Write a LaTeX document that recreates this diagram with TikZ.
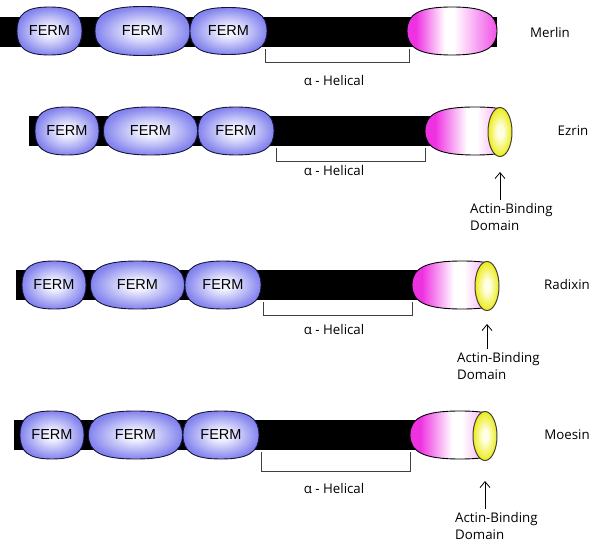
\documentclass[tikz,border=0pt]{standalone}
\usepackage{fontspec}
\setmainfont{Open Sans}
\newfontfamily\fermfont{Liberation Sans}
\usetikzlibrary{shapes.geometric,arrows.meta}
\definecolor{fermblue}{RGB}{132,132,238}
\definecolor{fermlight}{RGB}{242,242,255}
\definecolor{fermline}{RGB}{20,20,60}
\definecolor{pinkm}{RGB}{238,50,226}
\colorlet{pinkr}{pinkm!85!white}
\definecolor{yelw}{RGB}{236,236,24}
\definecolor{yellight}{RGB}{255,255,228}
\pgfdeclareradialshading{fermshade}{\pgfpointorigin}{color(0bp)=(fermlight); color(5bp)=(fermlight); color(25bp)=(fermblue); color(50bp)=(fermblue)}
\pgfdeclareradialshading{yelshade}{\pgfpointorigin}{color(0bp)=(yellight); color(6bp)=(yellight); color(25bp)=(yelw); color(50bp)=(yelw)}
\pgfdeclarehorizontalshading{pinkshade}{100bp}{color(0bp)=(pinkm); color(30bp)=(pinkm); color(46bp)=(white); color(51bp)=(white); color(75bp)=(pinkr); color(100bp)=(pinkr)}
\begin{document}
\begin{tikzpicture}[x=1pt, y=-1pt, >={Straight Barb[length=6pt,width=10pt]},
  pics/blob/.style args={#1/#2/#3}{code={
    \shade[#3]
      (-#1,0) .. controls (-#1,-.72*#2) and (-.72*#1,-#2) .. (0,-#2)
      .. controls (.72*#1,-#2) and (#1,-.72*#2) .. (#1,0)
      .. controls (#1,.72*#2) and (.72*#1,#2) .. (0,#2)
      .. controls (-.72*#1,#2) and (-#1,.72*#2) .. cycle;}},
  fermlook/.style={shading=fermshade, draw=fermline, line width=.9pt},
  pinklook/.style={shading=pinkshade, draw=black, line width=.9pt},
  ferm/.style={inner sep=0pt, font=\fermfont\fontsize{14.5}{16}\selectfont},
  dom/.style={ellipse, draw=black!85!yellow, line width=1pt, shading=yelshade, inner sep=0pt,
    minimum width=24pt, minimum height=49pt},
  backbone/.style={fill=black},
  brack/.style={draw=black!75, line width=.8pt},
  lbl/.style={font=\fontsize{13.3}{17}\selectfont},
  abd/.style={lbl, align=left, anchor=north west, inner sep=0pt}]
\useasboundingbox (0,0) rectangle (600,545);

% Merlin
\fill[backbone] (0,17) rectangle (497,47);
\pic at (49.5,31) {blob=32.5/24/fermlook};
\pic at (142.5,31) {blob=47.5/24.5/fermlook};
\pic at (228.5,31) {blob=38.5/23.5/fermlook};
\node[ferm] (m1) at (49.5,31) {FERM};
\node[ferm] (m2) at (142.5,31) {FERM};
\node[ferm] (m3) at (228.5,31) {FERM};
\pic at (452,31) {blob=45/24/pinklook};
\draw[brack] (265,49) -- (265,62) -- (409,62) -- (409,49);
\node[lbl] (h-Merlin) at (334,81) {α - Helical};
\node[lbl] (n-Merlin) at (550,33) {Merlin};

% Ezrin, Radixin, Moesin
\foreach \prot/\cy/\dx/\lx/\bd/\hy/\ty/\sh in
  {Ezrin/131/13/573/30/40/72/15, Radixin/285/0/567/30/45/67/13, Moesin/435/-2/567/36/54/77/20}
{
  \fill[backbone] (16+\dx,\cy-15) rectangle (470+\dx,\cy+15);
  \pic at (54+\dx,\cy) {blob=32/24/fermlook};
  \pic at (137.5+\dx,\cy) {blob=47/24/fermlook};
  \pic at (223+\dx,\cy) {blob=38/24/fermlook};
  \node[ferm] (f1-\prot) at (54+\dx,\cy) {FERM};
  \node[ferm] (f2-\prot) at (137.5+\dx,\cy) {FERM};
  \node[ferm] (f3-\prot) at (223+\dx,\cy) {FERM};
  \begin{scope}
  \clip (400+\dx,\cy-30) rectangle (487+\dx,\cy+30);
  \pic at (462+\dx,\cy) {blob=50/24/pinklook};
  \end{scope}
  \node[dom] (y-\prot) at (487+\dx,\cy+1) {};
  \draw[brack] (263+\dx,\cy+17) -- (263+\dx,\cy+\bd) -- (412+\dx,\cy+\bd) -- (412+\dx,\cy+17);
  \node[lbl] (h-\prot) at (334,\cy+\hy) {α - Helical};
  \node[lbl] (n-\prot) at (\lx,\cy) {\prot};
  \node[abd] (a-\prot) at (457+\dx,\cy+\ty) {Actin-Binding\\Domain};
  \draw[->, line width=.8pt, shorten <=3pt, shorten >=\sh pt] (a-\prot.north -| y-\prot.south) -- (y-\prot.south);
}
\end{tikzpicture}
\end{document}
